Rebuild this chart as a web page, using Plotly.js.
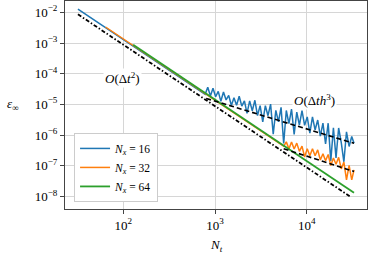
<!DOCTYPE html>
<html><head><meta charset="utf-8">
<script src="https://cdn.plot.ly/plotly-3.0.1.min.js"></script>
<style>html,body{margin:0;padding:0;background:#fff}#c{width:368px;height:258px}</style>
</head><body><div id="c"></div>
<script>
// Nx = 16
const ntBlue = [32,64,128,256,512,780,833,890,950,1015,1084,1157,1236,1320,1410,1506,1608,1717,1834,1958,2091,2233,2385,2547,2720,2905,3102,3313,3538,3778,4035,4309,4602,4914,5248,5604,5985,6391,6825,7289,7784,8313,8877,9480,10124,10812,11546,12330,13168,14062,15017,16037,17126,18289,19531,20858,22274,23787,25402,27127,28969,30937,32768];
const errBlue = [1.27e-2,3.17e-3,7.93e-4,1.98e-4,4.96e-5,2.14e-5,3.62e-5,1.87e-5,3.37e-5,1.78e-5,2.66e-5,1.26e-5,2.53e-5,1.40e-5,1.96e-5,9.24e-6,1.66e-5,9.41e-6,1.85e-5,8.75e-6,1.31e-5,5.13e-6,1.30e-5,6.14e-6,1.36e-5,4.33e-6,9.13e-6,2.72e-6,9.09e-6,4.29e-6,1.02e-5,1.07e-6,6.38e-6,2.69e-6,8.00e-6,5.34e-7,6.33e-6,2.37e-6,7.07e-6,1.06e-6,5.60e-6,2.10e-6,6.25e-6,2.09e-6,3.93e-6,1.17e-6,3.91e-6,1.47e-6,3.09e-6,9.21e-7,2.45e-6,5.16e-7,2.44e-6,1.45e-7,1.72e-6,1.82e-7,1.71e-6,5.72e-7,1.35e-7,1.27e-6,4.26e-7,8.99e-7,5.40e-7];
// Nx = 32
const ntOrange = [64,128,256,512,1024,2048,4096,5604,5985,6391,6825,7289,7784,8313,8877,9480,10124,10812,11546,12330,13168,14062,15017,16037,17126,18289,19531,20858,22274,23787,25402,27127,28969,30937,32768];
const errOrange = [3.32e-3,8.30e-4,2.08e-4,5.19e-5,1.30e-5,3.24e-6,8.11e-7,4.33e-7,6.02e-7,3.56e-7,5.95e-7,3.52e-7,5.48e-7,2.96e-7,4.40e-7,1.93e-7,3.62e-7,2.14e-7,3.57e-7,2.12e-7,3.30e-7,1.55e-7,2.47e-7,1.46e-7,2.33e-7,1.02e-7,1.79e-7,1.13e-7,1.89e-7,7.93e-8,1.32e-7,3.50e-8,1.04e-7,3.46e-8,7.35e-8];
// Nx = 64
const ntGreen = [128,256,512,1024,2048,4096,8192,16384,32768];
const errGreen = [8.73e-4,2.18e-4,5.45e-5,1.36e-5,3.41e-6,8.52e-7,2.13e-7,5.33e-8,1.33e-8];
// reference slopes
const ntDt2 = [32,30000];
const errDt2 = [8.59e-3,9.78e-9];
const ntH16 = [800,32768];
const errH16 = [1.566e-5,5.40e-7];
const ntH32 = [5604,32768];
const errH32 = [3.61e-7,6.55e-8];
const seriesNames = ['<i>N<sub>x</sub></i> = 16','<i>N<sub>x</sub></i> = 32','<i>N<sub>x</sub></i> = 64'];
const xTicks = [100,1000,10000];
const xTickText = ['10<sup>2</sup>','10<sup>3</sup>','10<sup>4</sup>'];
const yTicks = [1e-8,1e-7,1e-6,1e-5,1e-4,1e-3,1e-2];
const yTickText = ['10<sup>−8</sup>','10<sup>−7</sup>','10<sup>−6</sup>','10<sup>−5</sup>','10<sup>−4</sup>','10<sup>−3</sup>','10<sup>−2</sup>'];

const F = 'Liberation Serif, DejaVu Serif, serif';
const traces = [
  {x:ntBlue,y:errBlue,name:seriesNames[0],mode:'lines',line:{color:'#1f77b4',width:1.5}},
  {x:ntOrange,y:errOrange,name:seriesNames[1],mode:'lines',line:{color:'#ff7f0e',width:1.5}},
  {x:ntGreen,y:errGreen,name:seriesNames[2],mode:'lines',line:{color:'#2ca02c',width:1.8}},
  {x:ntH16,y:errH16,mode:'lines',showlegend:false,line:{color:'#000',width:1.6,dash:'5px,3px'}},
  {x:ntH32,y:errH32,mode:'lines',showlegend:false,line:{color:'#000',width:1.6,dash:'5px,3px'}},
  {x:ntDt2,y:errDt2,mode:'lines',showlegend:false,line:{color:'#000',width:1.8,dash:'4px,2px,1.5px,2px'}}
];
const axisCommon = {type:'log',showgrid:true,gridcolor:'#d6d6d6',gridwidth:1,
  showline:true,linecolor:'#444',linewidth:1,mirror:true,ticks:'outside',ticklen:4,tickcolor:'#444',
  zeroline:false,tickfont:{family:F,size:13,color:'#000'}};
const layout = {
  width:368,height:258,margin:{l:65,r:1,t:1,b:49},
  paper_bgcolor:'#fff',plot_bgcolor:'#fff',
  font:{family:F,color:'#000'},
  xaxis:Object.assign({},axisCommon,{range:[1.364,4.657],tickvals:xTicks,ticktext:xTickText}),
  yaxis:Object.assign({},axisCommon,{range:[-8.407,-1.632],tickvals:yTicks,ticktext:yTickText}),
  legend:{x:0.03,y:0.034,xanchor:'left',yanchor:'bottom',bgcolor:'#fff',bordercolor:'#ccc',borderwidth:1,
    font:{family:F,size:11.5},tracegroupgap:0,itemwidth:30},
  annotations:[
    {xref:'paper',yref:'paper',x:(122-65)/302,y:(209-78)/208,xanchor:'center',yanchor:'middle',text:'<i>O</i>(Δ<i>t</i><sup>2</sup>)',showarrow:false,bgcolor:'#fff',font:{family:F,size:13}},
    {xref:'paper',yref:'paper',x:(314-65)/302,y:(209-100)/208,xanchor:'center',yanchor:'middle',text:'<i>O</i>(Δ<i>th</i><sup>3</sup>)',showarrow:false,bgcolor:'#fff',font:{family:F,size:13}},
    {xref:'paper',yref:'paper',x:(13-65)/302,y:(209-104)/208,xanchor:'center',yanchor:'middle',text:'<i>ε</i><sub>∞</sub>',showarrow:false,font:{family:F,size:13}},
    {xref:'paper',yref:'paper',x:(216-65)/302,y:(209-245)/208,xanchor:'center',yanchor:'middle',text:'<i>N<sub>t</sub></i>',showarrow:false,font:{family:F,size:13}}
  ]
};
Plotly.newPlot('c',traces,layout,{staticPlot:true,displayModeBar:false});
</script></body></html>
